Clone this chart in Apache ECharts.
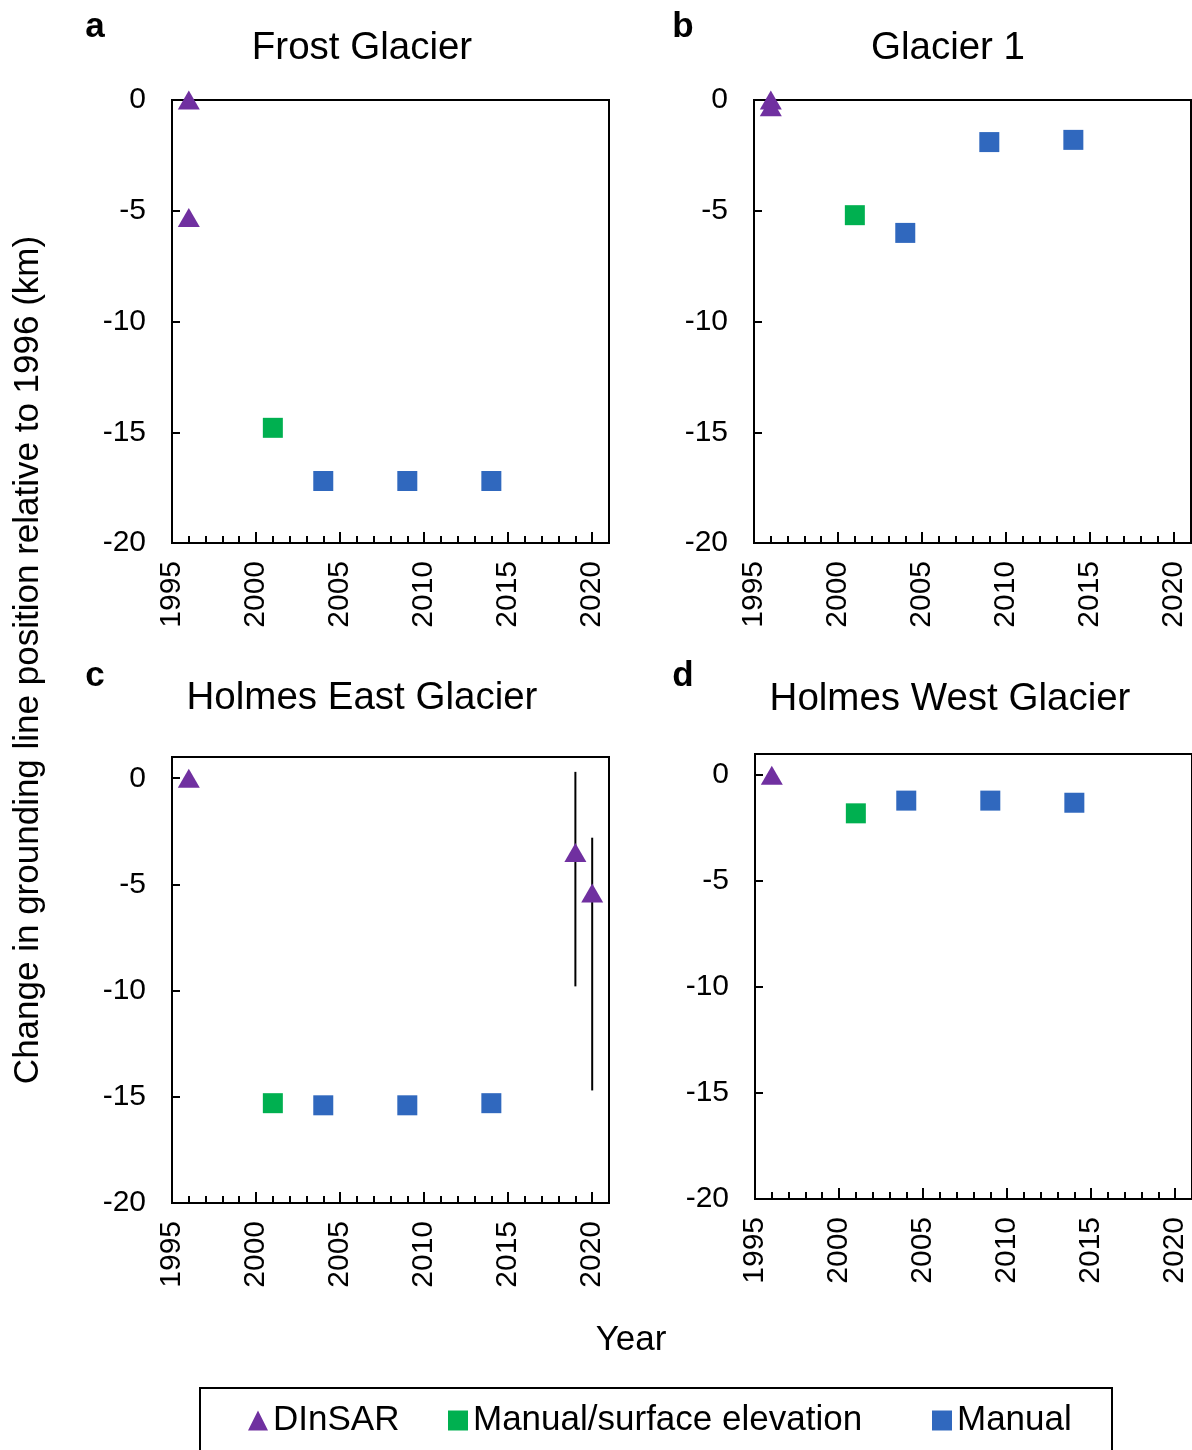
<!DOCTYPE html>
<html>
<head>
<meta charset="utf-8">
<script src="https://cdn.jsdelivr.net/npm/echarts@6/dist/echarts.min.js"></script>
<style>
  html, body { margin: 0; padding: 0; background: #fff; }
  #main { width: 1192px; height: 1450px; }
</style>
</head>
<body>
<div id="main"></div>
<script>
// data: [year, km]
var frostDinsar = [[1996, 0], [1996, -5.3]];
var frostSurface = [[2001, -14.8]];
var frostManual = [[2004, -17.2], [2009, -17.2], [2014, -17.2]];

var glacier1Dinsar = [[1996, 0], [1996, -0.3]];
var glacier1Surface = [[2001, -5.2]];
var glacier1Manual = [[2004, -6.0], [2009, -1.9], [2014, -1.8]];

var eastDinsar = [[1996, 0], [2019, -3.5], [2020, -5.4]];
var eastDinsarErr = [[2019, -9.8, 0.3], [2020, -14.7, -2.8]]; // [year, low, high]
var eastSurface = [[2001, -15.3]];
var eastManual = [[2004, -15.4], [2009, -15.4], [2014, -15.3]];

var westDinsar = [[1996, 0]];
var westSurface = [[2001, -1.8]];
var westManual = [[2004, -1.2], [2009, -1.2], [2014, -1.3]];

var panelTitles = ['Frost Glacier', 'Glacier 1', 'Holmes East Glacier', 'Holmes West Glacier'];
var panelLetters = ['a', 'b', 'c', 'd'];
var yMax = [0, 0, 1, 1];
var xMin = 1995, xMax = 2021;
var yMin = -20;

var FONT = '"Liberation Sans", Arial, sans-serif';
var PURPLE = '#7030A0', GREEN = '#00B050', BLUE = '#3068BE';

var myChart = echarts.init(document.getElementById('main'));

var grids = [
    { left: 172, top: 100, width: 437, height: 443 },
    { left: 754, top: 100, width: 437, height: 443 },
    { left: 172, top: 757, width: 437, height: 446 },
    { left: 755, top: 754, width: 437, height: 445 }
];
grids.forEach(function (g) {
    g.show = true;
    g.borderColor = '#000';
    g.borderWidth = 2;
    g.backgroundColor = '#fff';
});

var black2 = { color: '#000', width: 2 };
var xAxes = [], yAxes = [];
for (var i = 0; i < 4; i++) {
    // minor ticks every year + labels
    xAxes.push({
        gridIndex: i, type: 'value', position: 'bottom', min: xMin, max: xMax, interval: 1,
        axisLine: { onZero: false, lineStyle: black2 },
        axisTick: { inside: true, length: 7, lineStyle: black2 },
        axisLabel: {
            rotate: 90, margin: 18, fontSize: 30, color: '#000', fontFamily: FONT,
            formatter: function (v) { return (v % 5 === 0 && v < xMax) ? String(v) : ''; }
        },
        splitLine: { show: false }
    });
    // longer major ticks every 5 years
    xAxes.push({
        gridIndex: i, type: 'value', position: 'bottom', offset: 0, min: xMin, max: xMax, interval: 5,
        axisLine: { show: false, onZero: false },
        axisTick: { inside: true, length: 11, lineStyle: black2 },
        axisLabel: { show: false },
        splitLine: { show: false }
    });
    yAxes.push({
        gridIndex: i, type: 'value', min: yMin, max: yMax[i], interval: 5,
        axisLine: { onZero: false, lineStyle: black2 },
        axisTick: { inside: true, length: 8, lineStyle: black2 },
        axisLabel: {
            margin: 26, fontSize: 30, color: '#000', fontFamily: FONT,
            formatter: function (v) { return v % 5 === 0 ? String(v) : ''; }
        },
        splitLine: { show: false }
    });
}

var panelData = [
    [frostDinsar, frostSurface, frostManual],
    [glacier1Dinsar, glacier1Surface, glacier1Manual],
    [eastDinsar, eastSurface, eastManual],
    [westDinsar, westSurface, westManual]
];

var series = [];
// error bars (Holmes East)
series.push({
    type: 'custom', name: 'err', xAxisIndex: 4, yAxisIndex: 2, z: 1,
    data: eastDinsarErr,
    encode: { x: 0, y: [1, 2] },
    renderItem: function (params, api) {
        var lo = api.coord([api.value(0), api.value(1)]);
        var hi = api.coord([api.value(0), api.value(2)]);
        return {
            type: 'line',
            shape: { x1: lo[0], y1: lo[1], x2: hi[0], y2: hi[1] },
            style: { stroke: '#000', lineWidth: 2 }
        };
    }
});
panelData.forEach(function (d, i) {
    series.push({
        type: 'scatter', name: 'DInSAR', xAxisIndex: i * 2, yAxisIndex: i, z: 3,
        symbol: 'triangle', symbolSize: [22, 19], data: d[0],
        itemStyle: { color: PURPLE, opacity: 1 }
    });
    series.push({
        type: 'scatter', name: 'Manual/surface elevation', xAxisIndex: i * 2, yAxisIndex: i, z: 3,
        symbol: 'rect', symbolSize: 20, data: d[1],
        itemStyle: { color: GREEN, opacity: 1 }
    });
    series.push({
        type: 'scatter', name: 'Manual', xAxisIndex: i * 2, yAxisIndex: i, z: 3,
        symbol: 'rect', symbolSize: 20, data: d[2],
        itemStyle: { color: BLUE, opacity: 1 }
    });
});

function legendAt(left, name, icon) {
    return {
        left: left, top: 1403, padding: 0, selectedMode: false,
        itemWidth: 20, itemHeight: 20,
        textStyle: { fontSize: 35, color: '#000', fontFamily: FONT },
        data: [{ name: name, icon: icon }]
    };
}

var textEls = [];
var letterPos = [[95, 27], [683, 27], [95, 676], [683, 676]];
var titlePos = [[362, 48], [948, 48], [362, 698], [950, 699]];
for (var k = 0; k < 4; k++) {
    textEls.push({
        type: 'text', x: letterPos[k][0], y: letterPos[k][1],
        style: { text: panelLetters[k], font: 'bold 35px ' + FONT, fill: '#000', align: 'center', verticalAlign: 'middle' }
    });
    textEls.push({
        type: 'text', x: titlePos[k][0], y: titlePos[k][1],
        style: { text: panelTitles[k], font: '38.5px ' + FONT, fill: '#000', align: 'center', verticalAlign: 'middle' }
    });
}
textEls.push({
    type: 'text', x: 631, y: 1340,
    style: { text: 'Year', font: '35px ' + FONT, fill: '#000', align: 'center', verticalAlign: 'middle' }
});
textEls.push({
    type: 'text', x: 28, y: 660, rotation: Math.PI / 2,
    style: { text: 'Change in grounding line position relative to 1996 (km)', font: '35px ' + FONT, fill: '#000', align: 'center', verticalAlign: 'middle' }
});
textEls.push({
    type: 'rect', shape: { x: 200, y: 1388, width: 912, height: 100 },
    style: { fill: null, stroke: '#000', lineWidth: 2 }
});

var option = {
    backgroundColor: '#fff',
    animation: false,
    grid: grids,
    xAxis: xAxes,
    yAxis: yAxes,
    legend: [
        legendAt(248, 'DInSAR', 'triangle'),
        legendAt(448, 'Manual/surface elevation', 'rect'),
        legendAt(932, 'Manual', 'rect')
    ],
    graphic: textEls,
    series: series
};

myChart.setOption(option);
</script>
</body>
</html>
